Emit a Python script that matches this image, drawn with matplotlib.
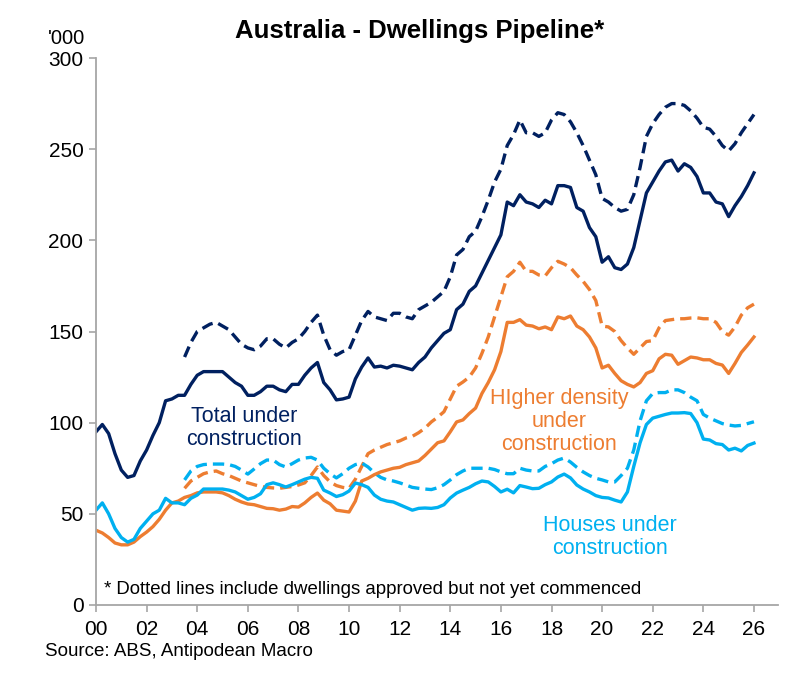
import numpy as np
import matplotlib
matplotlib.use("Agg")
import matplotlib.pyplot as plt

# ---------------- data ('000 dwellings, quarterly) ----------------
start_solid = 2000.0
start_dash = 2003.5

total_uc = [95, 99, 94, 83,
            74, 70, 71, 79,
            85, 93, 100, 112,
            113, 115, 115, 121,
            126, 128, 128, 128,
            128, 125, 122, 120,
            115, 115, 117, 120,
            120, 118, 117, 121,
            121, 126, 130, 133,
            122, 118, 112.5, 113,
            114, 124, 130.5, 135.5,
            130.5, 131, 130, 131.5,
            131, 130, 129, 133,
            136, 141, 145, 149,
            151, 162, 165, 172,
            175, 182, 189, 196,
            203, 221, 219, 225,
            221, 220, 218, 222,
            220, 230, 230, 229,
            218, 216, 207, 202,
            188, 191, 185, 184,
            187, 196, 211, 226,
            232, 238, 243, 244,
            238, 242, 240, 235,
            226, 226, 221, 220,
            213, 219, 224, 230,
            237]

total_pipe = [136, 144,
              150, 152, 154, 155,
              153, 151, 147, 143,
              141, 140, 142, 146,
              146, 143, 141, 144,
              146, 150, 155, 159,
              148, 140, 137, 139,
              140, 148, 156, 161,
              158, 157, 156, 160,
              160, 158, 157, 162,
              164, 166, 169, 172,
              180, 192, 195, 202,
              205, 213, 222, 232,
              239, 252, 258, 266,
              259, 259, 257, 259,
              266, 270, 269, 265,
              259, 252, 244, 236,
              223, 221, 218, 216,
              217, 225, 240, 257,
              264, 269, 273, 275,
              275, 274, 271, 267,
              262, 261, 257, 252,
              249, 253, 259, 264,
              269]

hd_uc = [41, 39.5, 37, 34,
         33, 33, 34.5, 37.5,
         40, 43, 47, 52,
         56, 57, 59, 60,
         61.5, 62, 62, 62,
         61.5, 60, 58, 56.5,
         55.4, 55, 54, 53,
         52.8, 52, 52.6, 54,
         53.7, 56, 59, 61.4,
         57.5, 55.5, 52, 51.5,
         51, 57, 68, 69.5,
         71.5, 73, 74, 75,
         75.5, 77, 78, 79,
         82, 85.5, 89, 90,
         95, 100.4, 101.5, 105,
         108, 116, 122, 129,
         139, 155, 155, 156.5,
         153.5, 153, 151.5, 152.5,
         151, 158, 157, 158.5,
         153, 151, 147, 141,
         130, 131.5, 127, 123,
         121, 119.6, 122, 127,
         128.5, 135, 137.5, 137,
         132, 134, 136, 135.5,
         134.5, 134.5, 132.5, 131.6,
         127, 132.5, 138.5, 142.6,
         147]

hd_pipe = [64, 68,
           70, 72, 73, 73.5,
           72, 71, 69.5, 68,
           67, 66, 65, 64.5,
           64.2, 64, 64.5, 65,
           65.8, 67, 71, 75.7,
           71, 67.5, 65.5, 64.5,
           64, 69, 76, 83,
           85, 86.5, 88, 89,
           90, 91.6, 92.5, 94.5,
           97, 100.4, 103, 106,
           113, 120, 122.3, 125,
           130, 138, 147, 158,
           169, 180, 183, 188,
           183, 183, 181, 180.5,
           185, 188.5, 187, 185,
           181, 177.5, 173, 167,
           153, 152.5, 150, 145,
           141, 137.5, 141, 144.5,
           145, 152, 156, 156.5,
           157, 157, 157.4, 157.5,
           157, 157, 155, 150,
           148, 152.5, 159, 163,
           165]

houses_uc = [52, 56, 50, 42,
             37, 34.5, 36, 42,
             46, 50, 52, 58.5,
             56, 56, 55, 58.5,
             60.3, 63.6, 63.6, 63.6,
             63.6, 63, 62, 60,
             58, 59, 61, 66,
             67, 66, 64.7, 66,
             67.5, 69, 70, 69.5,
             63, 61.4, 59.5, 60.5,
             62.5, 66.9, 66, 64.5,
             60.3, 58, 57, 56.5,
             55, 53.5, 52, 53,
             53.2, 53, 53.5, 55,
             58.7, 61.4, 63, 64.5,
             66.5, 68, 67.5, 65,
             62, 63.5, 61.5, 65.5,
             64.7, 63.8, 64, 66,
             67.5, 70.2, 71.8, 69.7,
             65.8, 63.6, 62, 60,
             59, 58.7, 57.5, 56.5,
             62, 76, 89, 99,
             102.5, 103.5, 104.5, 105.3,
             105.3, 105.5, 105, 100,
             91, 90.5, 88.5, 88,
             85, 86, 84.5, 87.5,
             88.8]

houses_pipe = [68.6, 73.5,
               76, 77, 77.3, 77.3,
               77.3, 77, 76, 74,
               71.8, 74.6, 77.5, 79.5,
               79.5, 77, 75.7, 77.5,
               79.5, 80.6, 81, 79.5,
               75, 72, 69.7, 72,
               75, 77, 77.9, 75.7,
               72.5, 70, 68.6, 68,
               67, 65.8, 64.5, 64,
               63.6, 63.3, 64.3, 66,
               68.6, 71.5, 73.5, 75,
               75, 75, 75, 74.3,
               73, 72, 72, 75,
               74, 73.5, 73.5, 76,
               77.5, 79.5, 80.6, 78.4,
               75.5, 73, 71, 69.5,
               68.6, 67.5, 67.5, 71,
               75, 85, 101, 112,
               116, 116.5, 116.5, 118,
               118, 116.5, 114, 112,
               104.5, 102.5, 101, 99.5,
               98.7, 98.2, 98.5, 99.5,
               100.5]

tick_years = list(range(2000, 2027, 2))
tick_labels = [f"{y % 100:02d}" for y in tick_years]

# ---------------- style ----------------
NAVY = "#002060"
ORANGE = "#ED7D31"
LBLUE = "#00B0F0"
GREY = "#A6A6A6"

plt.rcParams['font.family'] = ['Liberation Sans', 'DejaVu Sans']

x_solid = start_solid + 0.25 * np.arange(len(total_uc))
x_dash = start_dash + 0.25 * np.arange(len(total_pipe))

fig = plt.figure(figsize=(8.03, 6.80), dpi=100)
ax = fig.add_axes([96 / 803, 1 - 605 / 680, (778 - 96) / 803, (605 - 58) / 680])

lw = 2.4
dash = (0, (3.4, 1.8))
ax.plot(x_dash, total_pipe, color=NAVY, lw=lw, ls=dash)
ax.plot(x_dash, hd_pipe, color=ORANGE, lw=lw, ls=dash)
ax.plot(x_dash, houses_pipe, color=LBLUE, lw=lw, ls=dash)
ax.plot(x_solid, total_uc, color=NAVY, lw=lw)
ax.plot(x_solid, hd_uc, color=ORANGE, lw=lw)
ax.plot(x_solid, houses_uc, color=LBLUE, lw=lw)

ax.set_xlim(2000, 2026.95)
ax.set_ylim(0, 300)
ax.set_yticks([0, 50, 100, 150, 200, 250, 300])
ax.set_xticks(tick_years)
ax.set_xticklabels(tick_labels)

for s in ['top', 'right']:
    ax.spines[s].set_visible(False)
for s in ['left', 'bottom']:
    ax.spines[s].set_color(GREY)
    ax.spines[s].set_linewidth(1.3)
ax.tick_params(axis='both', direction='out', color=GREY, width=1.2, length=5,
               labelsize=15, pad=4)
ax.tick_params(axis='x', pad=6)

# ---------------- text ----------------
fig.text(420 / 803, 1 - 31 / 680, "Australia - Dwellings Pipeline*", ha='center', va='center',
         fontsize=18.5, fontweight='bold', color='black')
fig.text(48 / 803, 1 - 38 / 680, "'000", ha='left', va='center', fontsize=14.5,
         color='black')
fig.text(45 / 803, 1 - 652 / 680, "Source: ABS, Antipodean Macro", ha='left', va='center',
         fontsize=13.5, color='black')

ax.text(2005.85, 97, "Total under\nconstruction", ha='center', va='center',
        fontsize=15.5, color=NAVY, linespacing=1.12)
ax.text(2018.3, 100.5, "HIgher density\nunder\nconstruction", ha='center', va='center',
        fontsize=15.5, color=ORANGE, linespacing=1.12)
ax.text(2020.3, 37.5, "Houses under\nconstruction", ha='center', va='center',
        fontsize=15.5, color=LBLUE, linespacing=1.12)
ax.text(2000.3, 8.5, "* Dotted lines include dwellings approved but not yet commenced",
        ha='left', va='center', fontsize=13.4, color='black')

fig.savefig("out.png", dpi=100)
